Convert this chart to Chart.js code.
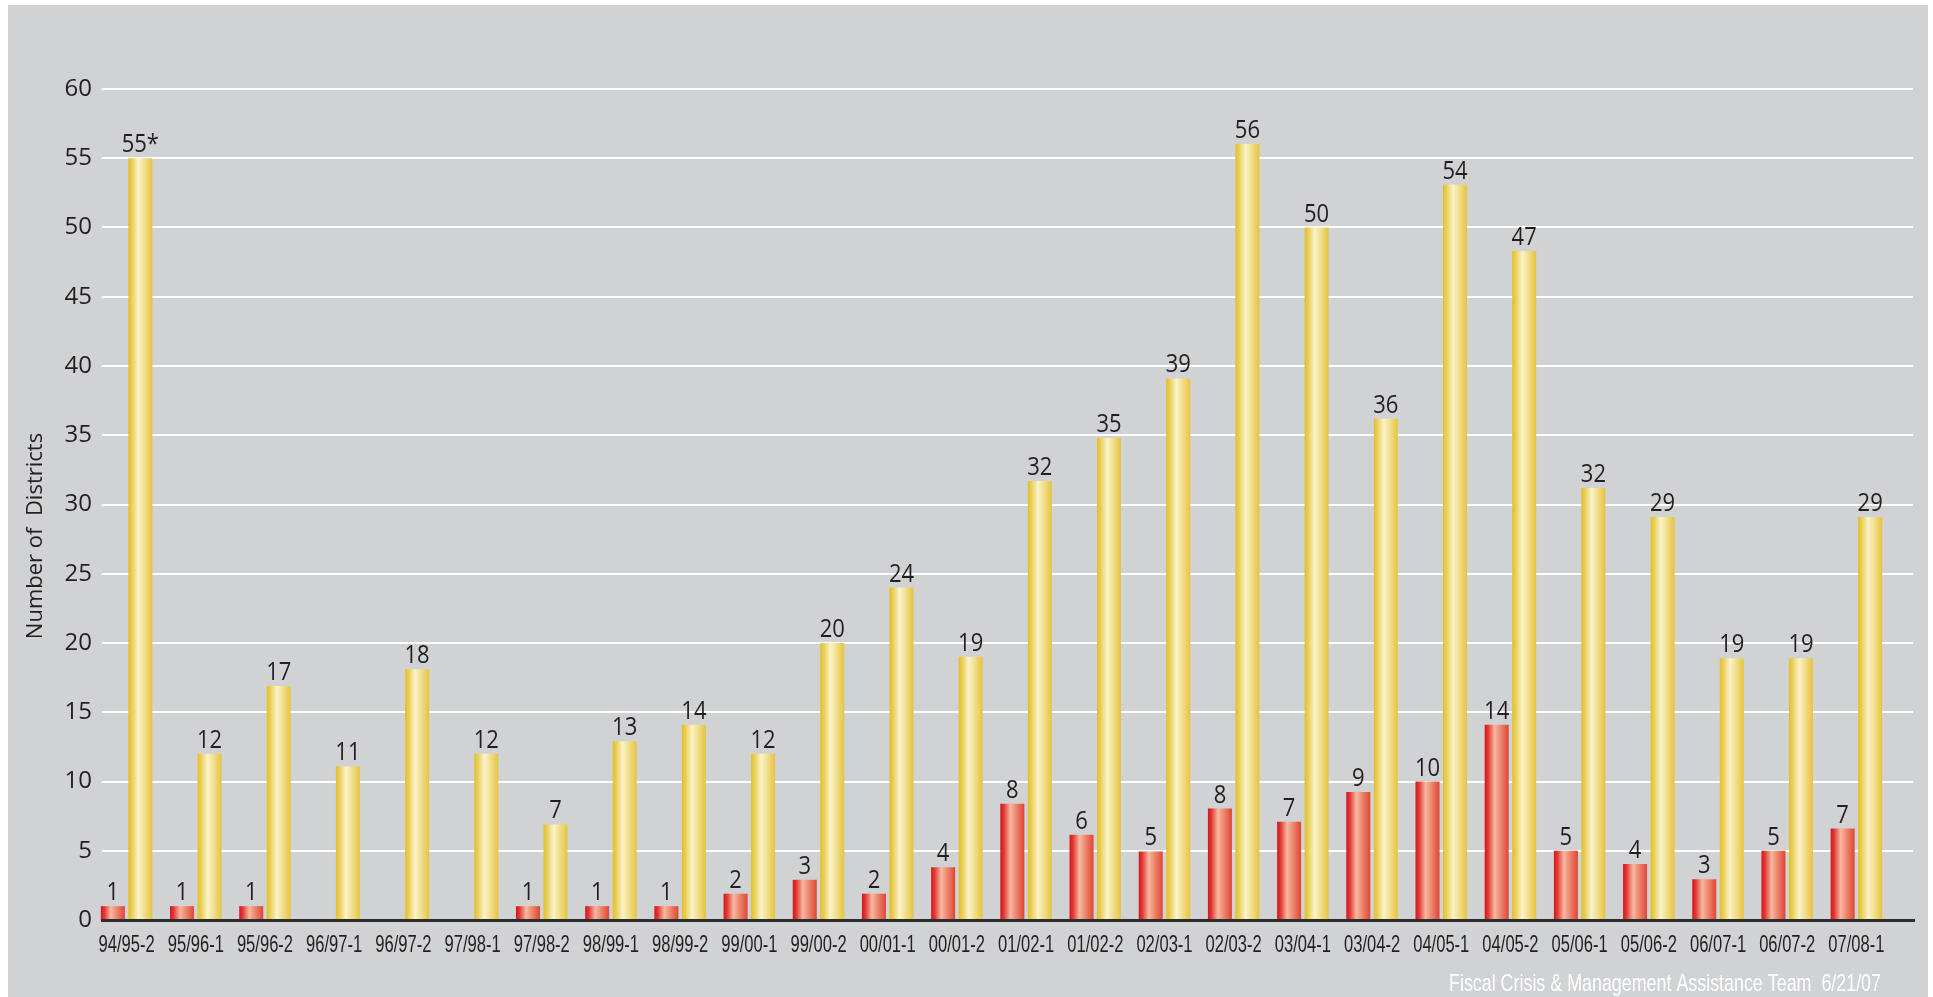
<!DOCTYPE html>
<html>
<head>
<meta charset="utf-8">
<script src="https://cdn.jsdelivr.net/npm/chart.js@4"></script>
<style>
  html, body { margin: 0; padding: 0; background: #fff; }
</style>
</head>
<body>
<canvas id="districtsChart" width="1933" height="997"></canvas>
<script>
const ctx = document.getElementById('districtsChart');

const categories = ['94/95-2', '95/96-1', '95/96-2', '96/97-1', '96/97-2', '97/98-1', '97/98-2',
    '98/99-1', '98/99-2', '99/00-1', '99/00-2', '00/01-1', '00/01-2', '01/02-1', '01/02-2',
    '02/03-1', '02/03-2', '03/04-1', '03/04-2', '04/05-1', '04/05-2', '05/06-1', '05/06-2',
    '06/07-1', '06/07-2', '07/08-1'];

// bar heights as drawn in the picture
const redValues = [1, 1, 1, null, null, null, 1, 1, 1, 1.9, 2.9, 1.9, 3.8, 8.4, 6.15, 4.95,
    8.05, 7.1, 9.25, 10, 14.1, 5, 4.05, 2.95, 5, 6.6];
const yellowValues = [55, 12, 16.9, 11.1, 18.1, 12, 6.9, 12.9, 14.1, 12, 20, 24, 19, 31.7, 34.8,
    39.1, 56.05, 50, 36.2, 53.1, 48.3, 31.2, 29.1, 18.9, 18.9, 29.1];

// numbers printed above the bars
const redLabels = ['1', '1', '1', '', '', '', '1', '1', '1', '2', '3', '2', '4', '8', '6', '5',
    '8', '7', '9', '10', '14', '5', '4', '3', '5', '7'];
const yellowLabels = ['55*', '12', '17', '11', '18', '12', '7', '13', '14', '12', '20', '24', '19',
    '32', '35', '39', '56', '50', '36', '54', '47', '32', '29', '19', '19', '29'];

const yTicks = [0, 5, 10, 15, 20, 25, 30, 35, 40, 45, 50, 55, 60];
const yTitle = 'Number of  Districts';
const footer = 'Fiscal Crisis & Management Assistance Team  6/21/07';

const CAT_PCT = 0.795;
const BAR_PCT = 0.873;

const redStops = [[0, '#d6141c'], [0.15, '#e13a34'], [0.42, '#f7b8a1'], [0.7, '#eb7f66'], [1, '#df4536']];
const yellowStops = [[0, '#e2bf28'], [0.15, '#e9cf57'], [0.42, '#fbf2c9'], [0.7, '#f0dc86'], [1, '#e5c43e']];

function barGradient(context, stops) {
    const chart = context.chart;
    const x = chart.scales.x;
    if (!x || context.dataIndex === undefined || !x.width) return stops[0][1];
    const slot = x.width / categories.length * CAT_PCT / 2;
    const center = x.getPixelForValue(context.dataIndex) + (context.datasetIndex === 0 ? -slot / 2 : slot / 2);
    const half = slot * BAR_PCT / 2;
    const g = chart.ctx.createLinearGradient(center - half, 0, center + half, 0);
    stops.forEach(s => g.addColorStop(s[0], s[1]));
    return g;
}

//text squeezed sideways, the original uses a condensed face
function narrowText(c, text, x, y, sx) {
    c.save();
    c.translate(x, y);
    c.scale(sx, 1);
    c.fillText(text, 0, 0);
    c.restore();
}

const backdrop = {
    id: 'backdrop',
    beforeDraw(chart) {
        const c = chart.ctx;
        c.save();
        c.fillStyle = '#ffffff';
        c.fillRect(0, 0, chart.width, chart.height);
        c.fillStyle = '#d1d2d4';
        c.fillRect(8, 5, chart.width - 13, chart.height - 5);
        c.restore();
    },
    beforeDatasetsDraw(chart) {
        //white grid lines run a bit wider than the bars
        const c = chart.ctx;
        const y = chart.scales.y;
        c.save();
        c.strokeStyle = '#ffffff';
        c.lineWidth = 2;
        yTicks.slice(1).forEach(v => {
            const py = Math.round(y.getPixelForValue(v));
            c.beginPath();
            c.moveTo(102, py);
            c.lineTo(1913, py);
            c.stroke();
        });
        c.restore();
    },
    afterDatasetsDraw(chart) {
        const c = chart.ctx;
        const x = chart.scales.x;
        const y = chart.scales.y;
        c.save();
        //base line
        const py = y.getPixelForValue(0) + 0.5;
        c.strokeStyle = '#2e2d2d';
        c.lineWidth = 3;
        c.beginPath();
        c.moveTo(101, py);
        c.lineTo(1915, py);
        c.stroke();

        //value labels
        c.fillStyle = '#231f20';
        c.font = '25px "Open Sans"';
        c.textAlign = 'center';
        c.textBaseline = 'alphabetic';
        [redLabels, yellowLabels].forEach((labels, di) => {
            chart.getDatasetMeta(di).data.forEach((bar, i) => {
                if (!labels[i]) return;
                narrowText(c, labels[i], bar.x, bar.y - 6, 0.88);
            });
        });

        //category labels
        c.font = '24px "Liberation Sans"';
        c.textBaseline = 'middle';
        categories.forEach((cat, i) => {
            narrowText(c, cat, x.getPixelForValue(i), 945, 0.69);
        });

        //footer
        c.fillStyle = '#ffffff';
        c.font = '24px "Liberation Sans"';
        c.textAlign = 'right';
        const w = c.measureText(footer).width;
        narrowText(c, footer, 1881, 984, 432 / w);

        //axis title
        c.fillStyle = '#231f20';
        c.font = '22px "Open Sans"';
        c.textAlign = 'center';
        c.translate(36, 536);
        c.rotate(-Math.PI / 2);
        c.fillText(yTitle, 0, 0);
        c.restore();
    }
};

new Chart(ctx, {
    type: 'bar',
    data: {
        labels: categories,
        datasets: [{
            label: 'Red',
            data: redValues,
            backgroundColor: c => barGradient(c, redStops),
            borderWidth: 0,
            categoryPercentage: CAT_PCT,
            barPercentage: BAR_PCT,
        }, {
            label: 'Yellow',
            data: yellowValues,
            backgroundColor: c => barGradient(c, yellowStops),
            borderWidth: 0,
            categoryPercentage: CAT_PCT,
            barPercentage: BAR_PCT,
        }],
    },
    options: {
        responsive: false,
        animation: false,
        layout: {
            padding: { top: 89, left: 8, right: 42, bottom: 0 }
        },
        plugins: {
            legend: { display: false },
            tooltip: { enabled: false },
        },
        scales: {
            x: {
                grid: { display: false, drawTicks: false },
                border: { display: false },
                ticks: { display: false },
                afterFit(scale) { scale.height = 77; }
            },
            y: {
                min: 0,
                max: 60,
                grid: { display: false, drawTicks: false },
                border: { display: false },
                ticks: {
                    stepSize: 5,
                    color: '#231f20',
                    font: { family: '"Open Sans"', size: 24 },
                    padding: 0,
                },
                afterFit(scale) { scale.width = 84; }
            }
        }
    },
    plugins: [backdrop]
});
</script>
</body>
</html>
